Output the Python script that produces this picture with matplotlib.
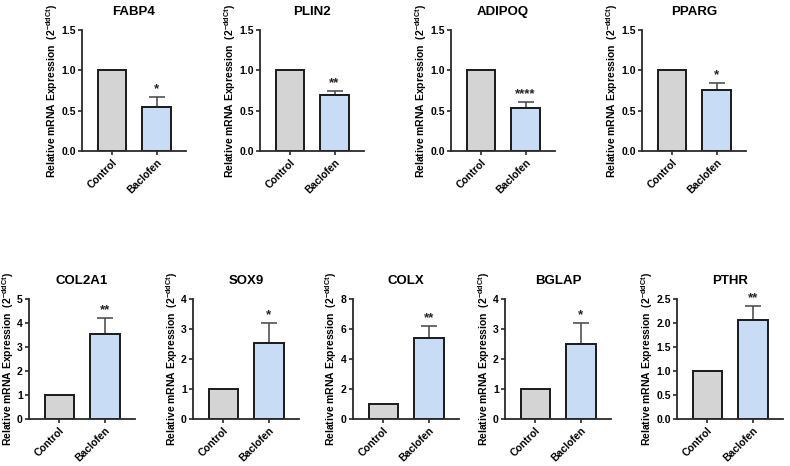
import matplotlib
matplotlib.use("Agg")
import matplotlib.pyplot as plt

plt.rcParams['font.family'] = ['Liberation Sans', 'DejaVu Sans']
plt.rcParams['font.weight'] = 'bold'
plt.rcParams['mathtext.fontset'] = 'custom'
plt.rcParams['mathtext.rm'] = 'Liberation Sans:bold'
plt.rcParams['mathtext.bf'] = 'Liberation Sans:bold'
plt.rcParams['mathtext.it'] = 'Liberation Sans:bold'

groups = ["Control", "Baclofen"]
genes = ["FABP4", "PLIN2", "ADIPOQ", "PPARG", "COL2A1", "SOX9", "COLX", "BGLAP", "PTHR"]
control_means = [1.0, 1.0, 1.0, 1.0, 1.0, 1.0, 1.0, 1.0, 1.0]
baclofen_means = [0.54, 0.69, 0.535, 0.76, 3.55, 2.55, 5.43, 2.5, 2.07]
baclofen_err = [0.135, 0.06, 0.075, 0.08, 0.66, 0.65, 0.76, 0.69, 0.28]
significance = ["*", "**", "****", "*", "**", "*", "**", "*", "**"]
y_max = [1.5, 1.5, 1.5, 1.5, 5, 4, 8, 4, 2.5]
y_ticks = [
    [0.0, 0.5, 1.0, 1.5], [0.0, 0.5, 1.0, 1.5], [0.0, 0.5, 1.0, 1.5], [0.0, 0.5, 1.0, 1.5],
    [0, 1, 2, 3, 4, 5], [0, 1, 2, 3, 4], [0, 2, 4, 6, 8], [0, 1, 2, 3, 4],
    [0.0, 0.5, 1.0, 1.5, 2.0, 2.5],
]
y_decimal = [True] * 4 + [False] * 4 + [True]

W, H = 790, 466
fig = plt.figure(figsize=(7.9, 4.66), dpi=100)

top_lefts = [82, 260, 451, 642]
bot_lefts = [29, 193, 353, 505, 677]
rects = []
for l in top_lefts:
    rects.append((l / W, (H - 151) / H, 104 / W, 121 / H))
for l in bot_lefts:
    rects.append((l / W, (H - 419) / H, 106 / W, 120 / H))

bar_colors = ["#d4d4d4", "#c8dcf5"]

for i, g in enumerate(genes):
    ax = fig.add_axes(rects[i])
    vals = [control_means[i], baclofen_means[i]]
    ax.bar([0, 1], vals, width=0.64, color=bar_colors, edgecolor="#1a1a1a",
           linewidth=1.4, zorder=2)
    ax.errorbar([1], [baclofen_means[i]], yerr=[[0], [baclofen_err[i]]],
                fmt='none', ecolor="#444444", elinewidth=1.1, capsize=5.5,
                capthick=1.1, zorder=1)
    top = baclofen_means[i] + baclofen_err[i]
    ax.text(1, top + y_max[i] * 0.015, significance[i], ha='center', va='bottom',
            fontsize=9.5, fontweight='bold', color="#222222")
    ax.set_xlim(-0.67, 1.66)
    ax.set_ylim(0, y_max[i])
    ax.set_yticks(y_ticks[i])
    ax.set_yticklabels(["{:.1f}".format(t) if y_decimal[i] else str(int(t)) for t in y_ticks[i]],
                       fontsize=7.5, fontweight='bold')
    ax.set_xticks([0, 1])
    ax.set_xticklabels(groups, rotation=45, ha='right', rotation_mode='anchor',
                       fontsize=7.5, fontweight='bold')
    for s in ['top', 'right']:
        ax.spines[s].set_visible(False)
    for s in ['left', 'bottom']:
        ax.spines[s].set_linewidth(1.3)
        ax.spines[s].set_color("#2a2a2a")
    ax.tick_params(axis='both', width=1.2, length=3, color="#2a2a2a", pad=1.5)
    ax.set_title(g, fontsize=9.5, fontweight='bold', pad=11)
    ax.set_ylabel(r"Relative mRNA Expression  (2$^{\mathbf{-ddCt}}$)",
                  fontsize=7.5, fontweight='bold', labelpad=1)
    ax.patch.set_alpha(0)

fig.savefig("out.png", dpi=100, facecolor="white")
